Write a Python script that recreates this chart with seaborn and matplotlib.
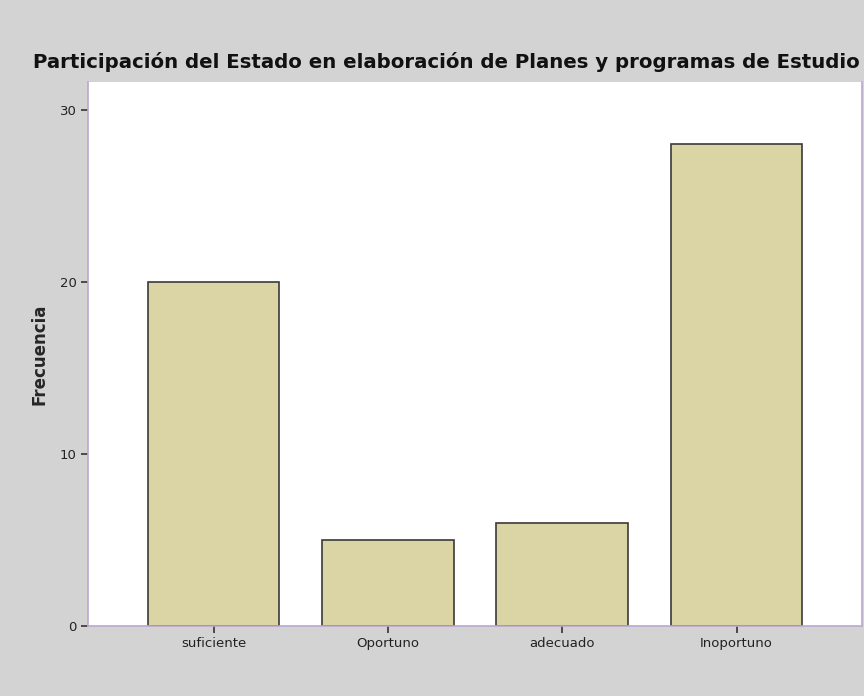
import pandas as pd
import matplotlib.pyplot as plt
import seaborn as sns

# Datos del gráfico
categorias = ["suficiente", "Oportuno", "adecuado", "Inoportuno"]
frecuencias = [20, 5, 6, 28]

df = pd.DataFrame({"categoria": categorias, "frecuencia": frecuencias})

sns.set_theme(style="white")
plt.rcParams["font.family"] = ["DejaVu Sans"]

fig = plt.figure(figsize=(8.64, 6.96), dpi=100, facecolor="#d3d3d3")
ax = fig.add_axes([0.1019, 0.1006, 0.8958, 0.7816])
ax.set_facecolor("white")

sns.barplot(data=df, x="categoria", y="frecuencia", color="#dbd5a6",
            edgecolor="#3a3a3a", linewidth=1.2, width=0.756, saturation=1, ax=ax)

ax.set_xlim(-0.72, 3.72)
ax.set_ylim(0, 31.6)
ax.set_yticks([0, 10, 20, 30])
ax.set_xlabel("")
ax.set_ylabel("Frecuencia", fontsize=12, fontweight="bold", labelpad=8)
ax.tick_params(axis="both", which="both", length=5, width=1.2, color="#333333",
               labelsize=9.5, colors="#222222", pad=3, left=True, bottom=True)

for side in ["left", "bottom", "right"]:
    ax.spines[side].set_color("#b9a8cc")
    ax.spines[side].set_linewidth(1.2)
ax.spines["top"].set_visible(False)

fig.text(0.517, 0.911, "Participación del Estado en elaboración de Planes y programas de Estudio",
         ha="center", va="center", fontsize=14.2, fontweight="bold", color="#111111")

plt.savefig("out.png", dpi=100, facecolor=fig.get_facecolor())
plt.close()
